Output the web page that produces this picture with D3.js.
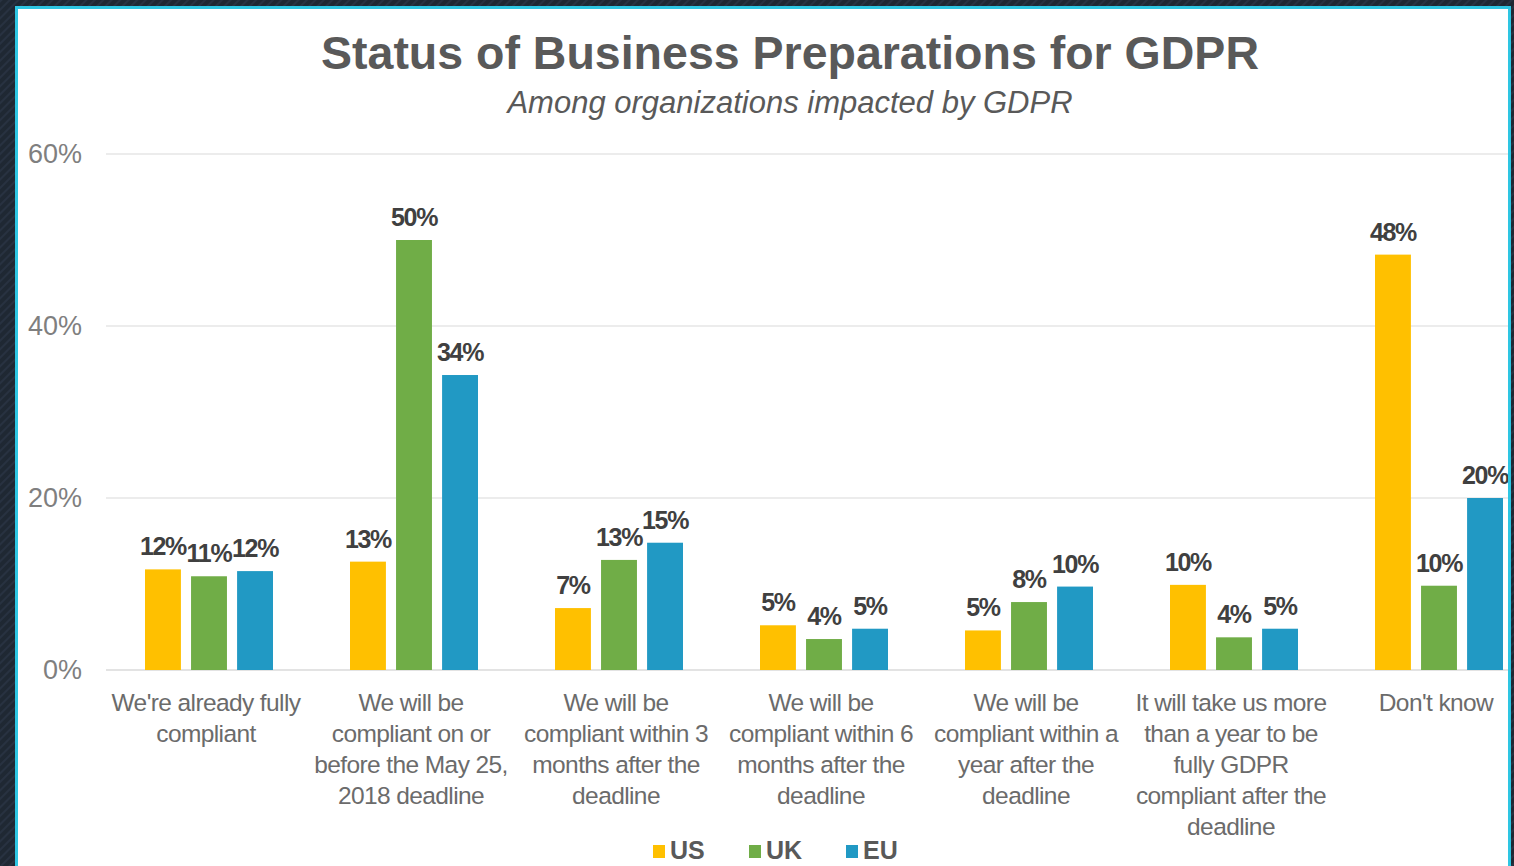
<!DOCTYPE html>
<html>
<head>
<meta charset="utf-8">
<script src="https://cdn.jsdelivr.net/npm/d3@7"></script>
<style>
  html, body { margin: 0; padding: 0; background: #212a36; }
  svg { display: block; }
  text { font-family: "Liberation Sans", Arial, sans-serif; }
</style>
</head>
<body>
<svg id="chart" width="1514" height="866"></svg>
<script>
// données
const categories = [
  ["We're already fully", "compliant"],
  ["We will be", "compliant on or", "before the May 25,", "2018 deadline"],
  ["We will be", "compliant within 3", "months after the", "deadline"],
  ["We will be", "compliant within 6", "months after the", "deadline"],
  ["We will be", "compliant within a", "year after the", "deadline"],
  ["It will take us more", "than a year to be", "fully GDPR", "compliant after the", "deadline"],
  ["Don't know"]
];
const series = ["US", "UK", "EU"];
const colors = ["#FFC000", "#70AD47", "#2199C4"];
const usValues = [11.7, 12.6, 7.2, 5.2, 4.6, 9.9, 48.3];
const ukValues = [10.9, 50.0, 12.8, 3.6, 7.9, 3.8, 9.8];
const euValues = [11.5, 34.3, 14.8, 4.8, 9.7, 4.8, 20.0];
const yTicks = [0, 20, 40, 60];

const title = "Status of Business Preparations for GDPR";
const subtitle = "Among organizations impacted by GDPR";

const values = [usValues, ukValues, euValues];
const svg = d3.select("#chart");

// fond sombre rayé
const defs = svg.append("defs");
const pat = defs.append("pattern")
  .attr("id", "stripes")
  .attr("width", 6).attr("height", 6)
  .attr("patternUnits", "userSpaceOnUse")
  .attr("patternTransform", "rotate(45)");
pat.append("rect").attr("width", 6).attr("height", 6).attr("fill", "#1f2833");
pat.append("rect").attr("width", 2).attr("height", 6).attr("fill", "#283241");
svg.append("rect").attr("width", 1514).attr("height", 866).attr("fill", "url(#stripes)");

// panneau blanc avec bordure cyan
const panel = { x: 18, y: 9, w: 1490, h: 870 };
svg.append("rect")
  .attr("x", panel.x - 1.5).attr("y", panel.y - 1.5)
  .attr("width", panel.w + 3).attr("height", panel.h + 3)
  .attr("fill", "#fff")
  .attr("stroke", "#2ec6e3").attr("stroke-width", 3);

defs.append("clipPath").attr("id", "panelClip")
  .append("rect")
  .attr("x", panel.x).attr("y", panel.y)
  .attr("width", panel.w).attr("height", panel.h);

const g = svg.append("g").attr("clip-path", "url(#panelClip)");

// échelles
const x0 = d3.scaleBand().domain(d3.range(categories.length)).range([106.5, 1541.5]);
const x1 = d3.scaleBand().domain(series).range([38.5, 166.5]).paddingInner(0.22);
const y = d3.scaleLinear().domain([0, 60]).range([670, 154]);

// grille
g.selectAll(".grid")
  .data(yTicks)
  .enter()
  .append("line")
  .attr("x1", 106).attr("x2", panel.x + panel.w)
  .attr("y1", d => y(d)).attr("y2", d => y(d))
  .attr("stroke", d => d === 0 ? "#e3e3e3" : "#ececec")
  .attr("stroke-width", 2);

// axe y
const yAxis = g.append("g")
  .attr("transform", "translate(82,0)")
  .call(d3.axisLeft(y).tickValues(yTicks).tickSize(0).tickPadding(0).tickFormat(d => d + "%"));
yAxis.select(".domain").remove();
yAxis.selectAll("text")
  .attr("font-size", 27)
  .attr("fill", "#7f7f7f")
  .attr("font-family", "Liberation Sans, Arial, sans-serif");

// barres
const groups = g.selectAll(".grp")
  .data(categories)
  .enter()
  .append("g")
  .attr("transform", (d, i) => "translate(" + x0(i) + ",0)");

groups.each(function(c, i) {
  const grp = d3.select(this);
  series.forEach(function(s, k) {
    const v = values[k][i];
    grp.append("rect")
      .attr("x", x1(s))
      .attr("y", y(v))
      .attr("width", x1.bandwidth())
      .attr("height", y(0) - y(v))
      .attr("fill", colors[k]);
    grp.append("text")
      .attr("x", x1(s) + x1.bandwidth() / 2)
      .attr("y", y(v) - 14)
      .attr("text-anchor", "middle")
      .attr("font-weight", "bold")
      .attr("font-size", 25)
      .attr("letter-spacing", -1.3)
      .attr("fill", "#404040")
      .text(Math.round(v) + "%");
  });
  // étiquettes de catégorie
  const lab = grp.append("text")
    .attr("text-anchor", "middle")
    .attr("font-size", 24.5)
    .attr("fill", "#6b6b6b")
    .attr("letter-spacing", -0.6);
  c.forEach(function(line, j) {
    lab.append("tspan")
      .attr("x", x0.bandwidth() / 2 - 3)
      .attr("y", 711 + j * 31)
      .text(line);
  });
});

// titres
svg.append("text")
  .attr("x", 790).attr("y", 69)
  .attr("text-anchor", "middle")
  .attr("font-size", 46.5)
  .attr("font-weight", "bold")
  .attr("fill", "#595959")
  .text(title);
svg.append("text")
  .attr("x", 790).attr("y", 113)
  .attr("text-anchor", "middle")
  .attr("font-size", 31)
  .attr("font-style", "italic")
  .attr("fill", "#595959")
  .text(subtitle);

// légende
const legendX = [653, 749, 846];
const leg = svg.selectAll(".leg")
  .data(series)
  .enter()
  .append("g")
  .attr("transform", (d, i) => "translate(" + legendX[i] + ",0)");
leg.append("rect")
  .attr("x", 0).attr("y", 845)
  .attr("width", 12).attr("height", 13)
  .attr("fill", (d, i) => colors[i]);
leg.append("text")
  .attr("x", 17).attr("y", 859)
  .attr("font-size", 25)
  .attr("font-weight", "bold")
  .attr("fill", "#595959")
  .text(d => d);
</script>
</body>
</html>
